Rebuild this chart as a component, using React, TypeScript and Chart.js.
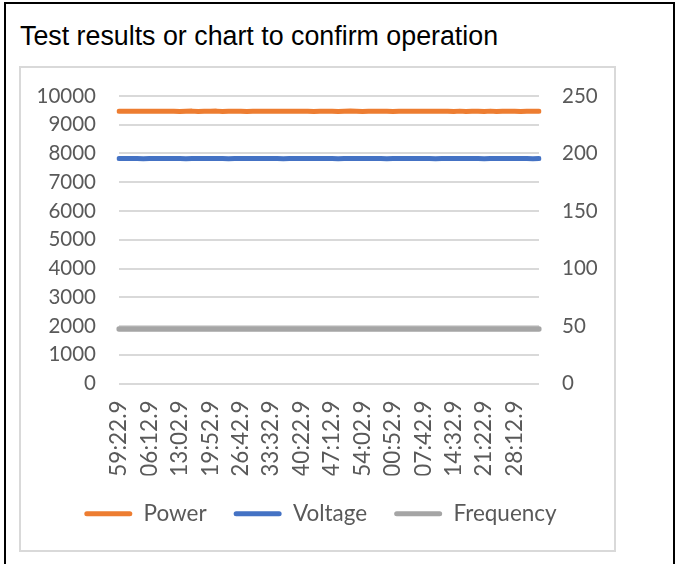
import React, { useEffect, useRef } from "react";
import { Chart, registerables } from "chart.js";

Chart.register(...registerables);

const timeTicks = [
  "59:22.9", "06:12.9", "13:02.9", "19:52.9", "26:42.9", "33:32.9", "40:22.9",
  "47:12.9", "54:02.9", "00:52.9", "07:42.9", "14:32.9", "21:22.9", "28:12.9",
];
const samplesPerTick = 5;

const power = [
  9467, 9467, 9468, 9466, 9467, 9467, 9467, 9467, 9466, 9473,
  9461, 9467, 9474, 9460, 9472, 9466, 9474, 9461, 9467, 9467,
  9473, 9461, 9467, 9467, 9467, 9467, 9466, 9467, 9467, 9467,
  9467, 9473, 9461, 9467, 9473, 9467, 9460, 9467, 9474, 9467,
  9461, 9467, 9473, 9467, 9467, 9461, 9467, 9467, 9467, 9467,
  9467, 9467, 9467, 9467, 9473, 9461, 9474, 9460, 9467, 9473,
  9461, 9474, 9460, 9467, 9473, 9467, 9461, 9467, 9467, 9467,
];
const voltage = [
  195.6, 195.6, 195.7, 195.6, 195.5, 195.6, 195.6, 195.6, 195.7, 195.6,
  195.6, 195.5, 195.6, 195.6, 195.6, 195.7, 195.6, 195.6, 195.5, 195.6,
  195.6, 195.6, 195.6, 195.7, 195.6, 195.6, 195.6, 195.5, 195.6, 195.6,
  195.6, 195.6, 195.7, 195.6, 195.6, 195.6, 195.5, 195.6, 195.6, 195.6,
  195.7, 195.6, 195.6, 195.6, 195.5, 195.6, 195.6, 195.6, 195.7, 195.6,
  195.6, 195.6, 195.5, 195.6, 195.6, 195.6, 195.7, 195.6, 195.6, 195.6,
  195.5, 195.6, 195.6, 195.6, 195.7, 195.6, 195.6, 195.6, 195.5, 195.6,
];
const frequency = [
  47.5, 47.5, 47.5, 47.5, 47.5, 47.5, 47.5, 47.5, 47.5, 47.5,
  47.5, 47.5, 47.5, 47.5, 47.5, 47.5, 47.5, 47.5, 47.5, 47.5,
  47.5, 47.5, 47.5, 47.5, 47.5, 47.5, 47.5, 47.5, 47.5, 47.5,
  47.5, 47.5, 47.5, 47.5, 47.5, 47.5, 47.5, 47.5, 47.5, 47.5,
  47.5, 47.5, 47.5, 47.5, 47.5, 47.5, 47.5, 47.5, 47.5, 47.5,
  47.5, 47.5, 47.5, 47.5, 47.5, 47.5, 47.5, 47.5, 47.5, 47.5,
  47.5, 47.5, 47.5, 47.5, 47.5, 47.5, 47.5, 47.5, 47.5, 47.5,
];

const categories = power.map((_, i) =>
  i % samplesPerTick === 0 && timeTicks[i / samplesPerTick] !== undefined
    ? timeTicks[i / samplesPerTick]
    : ""
);

const TEXT = "#595959";
const GRID = "#D9D9D9";
const Y_FONT = { family: "Lato", size: 20.5 };
const X_FONT = { family: "Lato", size: 22.5 };
const LEGEND_FONT = { family: "Lato", size: 22.5 };

export default function App() {
  const ref = useRef<HTMLCanvasElement | null>(null);

  useEffect(() => {
    if (!ref.current) return;
    const line = (label: string, data: number[], color: string, axis: string, width: number) => ({
      label,
      data,
      borderColor: color,
      backgroundColor: color,
      borderWidth: width,
      pointRadius: 0,
      tension: 0,
      borderCapStyle: "round" as const,
      borderJoinStyle: "round" as const,
      yAxisID: axis,
    });
    const chart = new Chart(ref.current, {
      type: "line",
      data: {
        labels: categories,
        datasets: [
          line("Power", power, "#ED7D31", "y", 5),
          line("Voltage", voltage, "#4472C4", "y1", 5),
          line("Frequency", frequency, "#A5A5A5", "y1", 5.5),
        ],
      },
      options: {
        responsive: false,
        animation: false,
        layout: { padding: { top: 28, left: 0, right: 0, bottom: 0 } },
        scales: {
          x: {
            type: "category",
            offset: false,
            grid: { display: false, drawTicks: false },
            border: { display: false },
            ticks: {
              autoSkip: false,
              minRotation: 90,
              maxRotation: 90,
              padding: 17,
              color: TEXT,
              font: X_FONT,
              callback: (_v: any, i: number) => categories[i],
            },
            afterFit: (s: any) => {
              s.height = 92;
            },
          },
          y: {
            position: "left",
            min: 0,
            max: 10000,
            ticks: {
              stepSize: 1000,
              padding: 23,
              color: TEXT,
              font: Y_FONT,
              callback: (v: any) => String(v),
            },
            grid: { color: GRID, lineWidth: 2, drawTicks: false },
            border: { display: false },
            afterFit: (s: any) => {
              s.width = 99;
              s.paddingTop = 0;
              s.paddingBottom = 0;
            },
          },
          y1: {
            position: "right",
            min: 0,
            max: 250,
            ticks: {
              stepSize: 50,
              padding: 23,
              color: TEXT,
              font: Y_FONT,
              callback: (v: any) => String(v),
            },
            grid: { display: false, drawTicks: false },
            border: { display: false },
            afterFit: (s: any) => {
              s.width = 82;
              s.paddingTop = 0;
              s.paddingBottom = 0;
            },
          },
        },
        plugins: {
          legend: {
            position: "bottom",
            labels: {
              boxWidth: 48,
              boxHeight: 5,
              padding: 27,
              color: TEXT,
              font: LEGEND_FONT,
              useBorderRadius: true,
              borderRadius: 2.5,
              generateLabels: (c: any) =>
                Chart.defaults.plugins.legend.labels
                  .generateLabels(c)
                  .map((l: any) => ({ ...l, lineWidth: 0 })),
            },
          },
          tooltip: { enabled: false },
        },
      },
    });
    return () => chart.destroy();
  }, []);

  return (
    <div
      style={{
        position: "absolute",
        left: 0,
        top: 0,
        width: 675,
        height: 564,
        background: "#fff",
        overflow: "hidden",
      }}
    >
      <div
        style={{
          position: "absolute",
          left: 4,
          top: 2,
          width: 671,
          height: 600,
          boxSizing: "border-box",
          borderLeft: "2px solid #000",
          borderTop: "2px solid #000",
          borderRight: "2px solid #000",
        }}
      />
      <div
        style={{
          position: "absolute",
          left: 20,
          top: 23.4,
          fontFamily: "'Liberation Sans', Arial, sans-serif",
          fontSize: 26.8,
          lineHeight: 1,
          color: "#000",
          whiteSpace: "nowrap",
        }}
      >
        Test results or chart to confirm operation
      </div>
      <div
        style={{
          position: "absolute",
          left: 19,
          top: 66,
          width: 597,
          height: 486,
          boxSizing: "border-box",
          border: "2px solid #D9D9D9",
        }}
      />
      <canvas
        ref={ref}
        width={601}
        height={467}
        style={{ position: "absolute", left: 20, top: 68, width: 601, height: 467 }}
      />
    </div>
  );
}
